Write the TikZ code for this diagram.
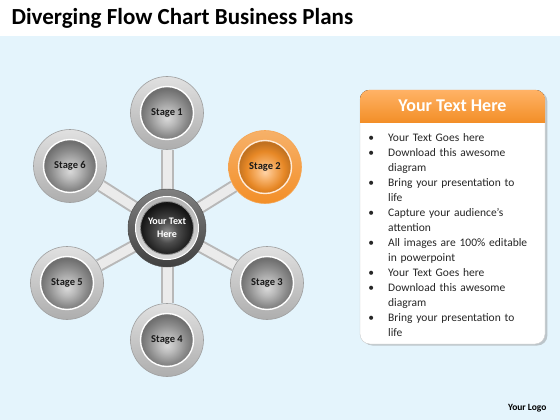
\documentclass[tikz,border=0pt]{standalone}
\usepackage{fontspec}
\setmainfont{Carlito}
\usepackage{enumitem}
\usetikzlibrary{backgrounds,shadows}
\definecolor{bgblue}{RGB}{228,244,252}
\definecolor{stageorange}{RGB}{243,143,40}
\pgfdeclareradialshading{grayball}{\pgfpoint{0bp}{-5bp}}{color(0bp)=(black!15); color(8bp)=(black!27); color(18bp)=(black!45); color(25bp)=(black!56); color(50bp)=(black!60)}
\pgfdeclareradialshading{orangeball}{\pgfpoint{0bp}{-5bp}}{color(0bp)=(orange!35); color(8bp)=(stageorange!70); color(18bp)=(stageorange!95!black); color(25bp)=(stageorange!80!black); color(50bp)=(stageorange!75!black)}
\pgfdeclareradialshading{hubball}{\pgfpoint{0bp}{-5bp}}{color(0bp)=(black!40); color(10bp)=(black!70); color(25bp)=(black!92); color(50bp)=(black!95)}
\begin{document}
\begin{tikzpicture}[x=1pt,y=-1pt,
	ring/.style={circle,minimum size=73pt,inner sep=0pt,top color=black!12,bottom color=black!32,draw=black!38,line width=0.6pt},
	ball/.style={circle,minimum size=53pt,inner sep=0pt,shading=grayball,draw=white,line width=1.4pt,font=\bfseries\fontsize{10.5}{12}\selectfont,text=black!90},
	arm/.style={line width=13pt,draw=black!28},
	armlight/.style={line width=9pt,draw=black!8}]
	\useasboundingbox (0,0) rectangle (560,420);
	\def\hx{167}
	\def\hy{228}
	% title and logo
	\node[anchor=base west,font=\bfseries\fontsize{23}{27}\selectfont] (title) at (8,25) {Diverging Flow Chart Business Plans};
	\node[anchor=base east,font=\bfseries\fontsize{9.5}{11}\selectfont] (logo) at (550,410) {Your Logo};
	% hub
	\node[circle,minimum size=78pt,inner sep=0pt,top color=black!50,bottom color=black!75,draw=black!70] (hubring) at (\hx,\hy) {};
	\node[circle,minimum size=63pt,inner sep=0pt,top color=black!30,bottom color=black!15,draw=white,line width=1pt] (hubmid) at (\hx,\hy) {};
	\node[circle,minimum size=53pt,inner sep=0pt,shading=hubball,draw=black!45,line width=0.8pt,align=center,text=white,font=\bfseries\fontsize{10}{13}\selectfont] (hub) at (\hx,\hy) {Your Text\\Here};
	% stages
	\node[ring] (r1) at (167,113) {};
	\node[ball] (s1) at (r1) {Stage 1};
	\node[ring,top color=stageorange!70,bottom color=stageorange,draw=stageorange!80] (r2) at (265,167) {};
	\node[ball,shading=orangeball,draw=orange!15] (s2) at (r2) {Stage 2};
	\node[ring] (r3) at (267,283) {};
	\node[ball] (s3) at (r3) {Stage 3};
	\node[ring] (r4) at (167,340) {};
	\node[ball] (s4) at (r4) {Stage 4};
	\node[ring] (r5) at (67,283) {};
	\node[ball] (s5) at (r5) {Stage 5};
	\node[ring] (r6) at (70,166) {};
	\node[ball] (s6) at (r6) {Stage 6};
	% text panel
	\node[rectangle,rounded corners=10pt,minimum width=185pt,minimum height=254pt,fill=white,draw=gray!40,drop shadow={opacity=0.4,shadow yshift=-1.5pt}] (panel) at (452.5,217) {};
	\begin{scope}
		\clip[rounded corners=10pt] (panel.north west) rectangle (panel.south east);
		\fill[top color=orange!60,bottom color=stageorange] (360,90) rectangle (545,122);
	\end{scope}
	\node[text=white,font=\bfseries\fontsize{18}{20}\selectfont] (head) at (452.5,106) {Your Text Here};
	\node[anchor=north west,text width=178pt,inner sep=0pt,font=\fontsize{11.5}{15}\selectfont,text=black!85] (list) at (366,126) {%
		\begin{itemize}[leftmargin=22pt,labelsep=14pt,itemsep=0pt,parsep=0pt,topsep=0pt,partopsep=0pt]
			\item Your Text Goes here
			\item Download this awesome\newline diagram
			\item Bring your presentation to\newline life
			\item Capture your audience’s\newline attention
			\item All images are 100\% editable\newline in powerpoint
			\item Your Text Goes here
			\item Download this awesome\newline diagram
			\item Bring your presentation to\newline life
		\end{itemize}};
	% background and arms
	\begin{scope}[on background layer]
		\fill[white] (0,0) rectangle (560,37);
		\fill[left color=bgblue,middle color=white,right color=bgblue] (0,37) rectangle (560,420);
		\foreach \s in {r1,r2,r3,r4,r5,r6}
			\draw[arm] (hub) -- (\s);
		\foreach \s in {r1,r2,r3,r4,r5,r6}
			\draw[armlight] (hub) -- (\s);
	\end{scope}
\end{tikzpicture}
\end{document}
